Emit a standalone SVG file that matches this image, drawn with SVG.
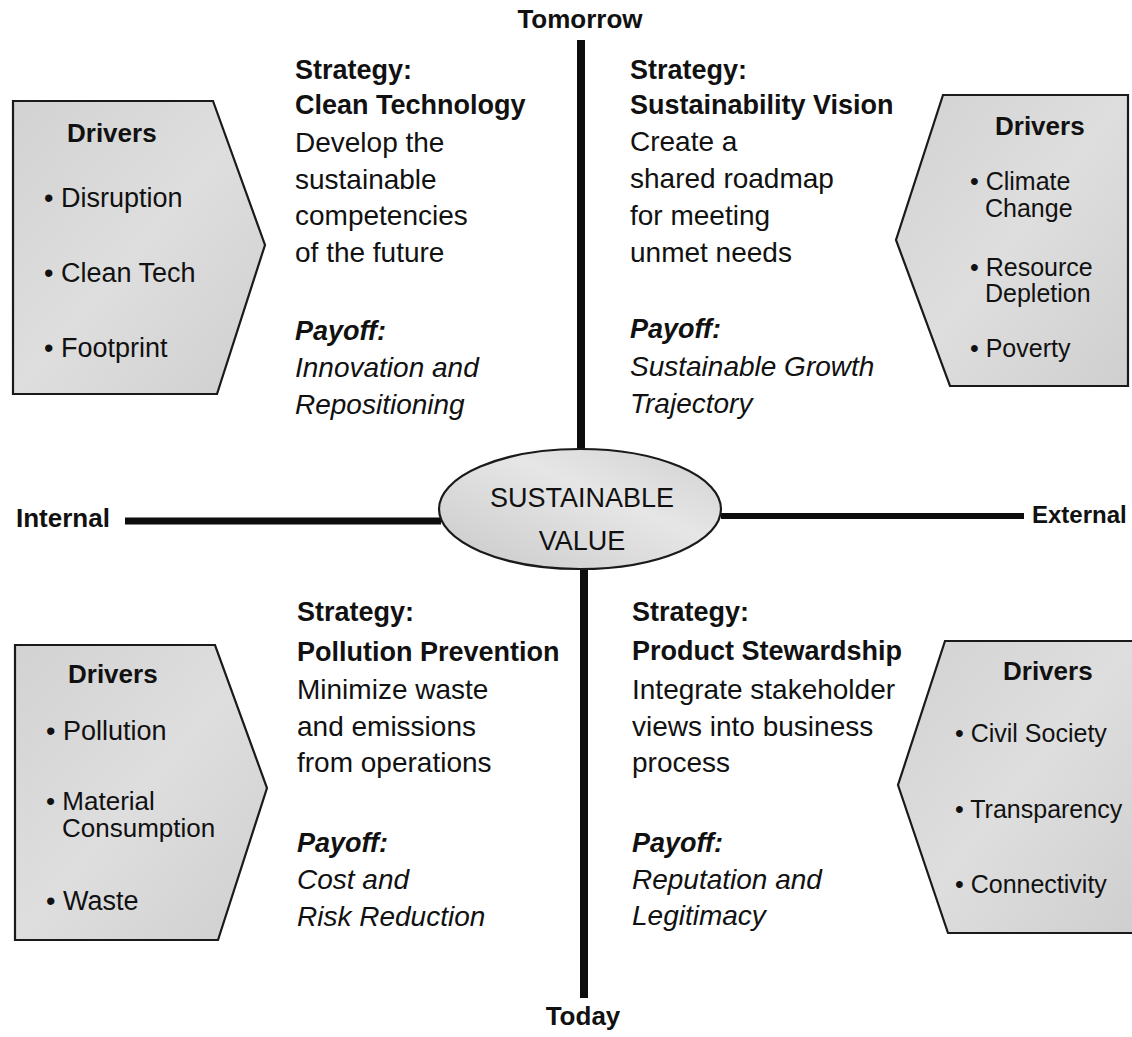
<svg xmlns="http://www.w3.org/2000/svg" width="1132" height="1037" viewBox="0 0 1132 1037">
<style>
  .t { font-family: "Liberation Sans", Arial, sans-serif; fill: #111; }
  .q { font-size: 28px; }
  .qb { font-size: 27px; font-weight: bold; }
  .qi { font-size: 28px; font-style: italic; }
  .qpi { font-size: 27px; font-style: italic; font-weight: bold; }
  .dh { font-size: 26px; font-weight: bold; }
  .di { font-size: 27px; }
  .ds { font-size: 25px; }
  .dm { font-size: 26px; }
  .ax { font-size: 26px; font-weight: bold; }
  .axs { font-size: 24px; font-weight: bold; }
  .box { fill: url(#gray); stroke: #1a1a1a; stroke-width: 2.2; }
  .axis { stroke: #0d0d0d; fill: none; }
</style>
<defs>
  <linearGradient id="gray" x1="0" y1="0" x2="1" y2="1">
    <stop offset="0" stop-color="#d2d2d2"/>
    <stop offset="0.5" stop-color="#dedede"/>
    <stop offset="1" stop-color="#cfcfcf"/>
  </linearGradient>
  <linearGradient id="ell" x1="0" y1="1" x2="1" y2="0">
    <stop offset="0" stop-color="#c9c9c9"/>
    <stop offset="0.6" stop-color="#e6e6e6"/>
    <stop offset="1" stop-color="#d0d0d0"/>
  </linearGradient>
</defs>
<rect width="1132" height="1037" fill="#ffffff"/>

<g id="connectors">
  <line class="axis" x1="581" y1="40" x2="581" y2="449" stroke-width="8"/>
  <line class="axis" x1="584" y1="569" x2="584" y2="998" stroke-width="8"/>
  <line class="axis" x1="125" y1="521" x2="441" y2="521" stroke-width="7"/>
  <line class="axis" x1="721" y1="516" x2="1024" y2="516" stroke-width="6"/>
</g>

<g id="axis-labels">
  <text class="t ax" x="580" y="28" text-anchor="middle">Tomorrow</text>
  <text class="t ax" x="583" y="1025" text-anchor="middle">Today</text>
  <text class="t ax" x="16" y="527">Internal</text>
  <text class="t axs" x="1032" y="523">External</text>
</g>

<g id="center">
  <ellipse cx="580" cy="509" rx="141" ry="60" fill="url(#ell)" stroke="#1a1a1a" stroke-width="2.2"/>
  <text class="t" font-size="27" x="582" y="507" text-anchor="middle">SUSTAINABLE</text>
  <text class="t" font-size="27" x="582" y="550" text-anchor="middle">VALUE</text>
</g>

<g id="drivers-tl">
  <polygon class="box" points="13,101 213,101 265,245 217,394 13,394"/>
  <text class="t dh" x="67" y="142">Drivers</text>
  <text class="t di" x="44" y="207">• Disruption</text>
  <text class="t di" x="44" y="282">• Clean Tech</text>
  <text class="t di" x="44" y="357">• Footprint</text>
</g>

<g id="drivers-tr">
  <polygon class="box" points="943,95 1128,95 1128,386 950,386 896,240"/>
  <text class="t dh" x="995" y="135">Drivers</text>
  <text class="t ds" x="970" y="190">• Climate</text>
  <text class="t ds" x="985" y="217">Change</text>
  <text class="t ds" x="970" y="276">• Resource</text>
  <text class="t ds" x="985" y="302">Depletion</text>
  <text class="t ds" x="970" y="357">• Poverty</text>
</g>

<g id="drivers-bl">
  <polygon class="box" points="15,645 215,645 267,788 218,940 15,940"/>
  <text class="t dh" x="68" y="683">Drivers</text>
  <text class="t di" x="46" y="740">• Pollution</text>
  <text class="t dm" x="46" y="810">• Material</text>
  <text class="t dm" x="62" y="837">Consumption</text>
  <text class="t di" x="46" y="910">• Waste</text>
</g>

<g id="drivers-br">
  <polygon class="box" points="945,641 1134,641 1134,933 948,933 898,785"/>
  <text class="t dh" x="1003" y="680">Drivers</text>
  <text class="t ds" x="955" y="742">• Civil Society</text>
  <text class="t ds" x="955" y="818">• Transparency</text>
  <text class="t ds" x="955" y="893">• Connectivity</text>
</g>

<g id="quadrant-tl">
  <text class="t qb" x="295" y="79">Strategy:</text>
  <text class="t qb" x="295" y="114">Clean Technology</text>
  <text class="t q" x="295" y="152">Develop the</text>
  <text class="t q" x="295" y="189">sustainable</text>
  <text class="t q" x="295" y="225">competencies</text>
  <text class="t q" x="295" y="262">of the future</text>
  <text class="t qpi" x="295" y="340">Payoff:</text>
  <text class="t qi" x="295" y="377">Innovation and</text>
  <text class="t qi" x="295" y="414">Repositioning</text>
</g>

<g id="quadrant-tr">
  <text class="t qb" x="630" y="79">Strategy:</text>
  <text class="t qb" x="630" y="114">Sustainability Vision</text>
  <text class="t q" x="630" y="151">Create a</text>
  <text class="t q" x="630" y="188">shared roadmap</text>
  <text class="t q" x="630" y="225">for meeting</text>
  <text class="t q" x="630" y="262">unmet needs</text>
  <text class="t qpi" x="630" y="338">Payoff:</text>
  <text class="t qi" x="630" y="376">Sustainable Growth</text>
  <text class="t qi" x="630" y="413">Trajectory</text>
</g>

<g id="quadrant-bl">
  <text class="t qb" x="297" y="621">Strategy:</text>
  <text class="t qb" x="297" y="661">Pollution Prevention</text>
  <text class="t q" x="297" y="699">Minimize waste</text>
  <text class="t q" x="297" y="736">and emissions</text>
  <text class="t q" x="297" y="772">from operations</text>
  <text class="t qpi" x="297" y="852">Payoff:</text>
  <text class="t qi" x="297" y="889">Cost and</text>
  <text class="t qi" x="297" y="926">Risk Reduction</text>
</g>

<g id="quadrant-br">
  <text class="t qb" x="632" y="621">Strategy:</text>
  <text class="t qb" x="632" y="660">Product Stewardship</text>
  <text class="t q" x="632" y="699">Integrate stakeholder</text>
  <text class="t q" x="632" y="736">views into business</text>
  <text class="t q" x="632" y="772">process</text>
  <text class="t qpi" x="632" y="852">Payoff:</text>
  <text class="t qi" x="632" y="889">Reputation and</text>
  <text class="t qi" x="632" y="925">Legitimacy</text>
</g>
</svg>
